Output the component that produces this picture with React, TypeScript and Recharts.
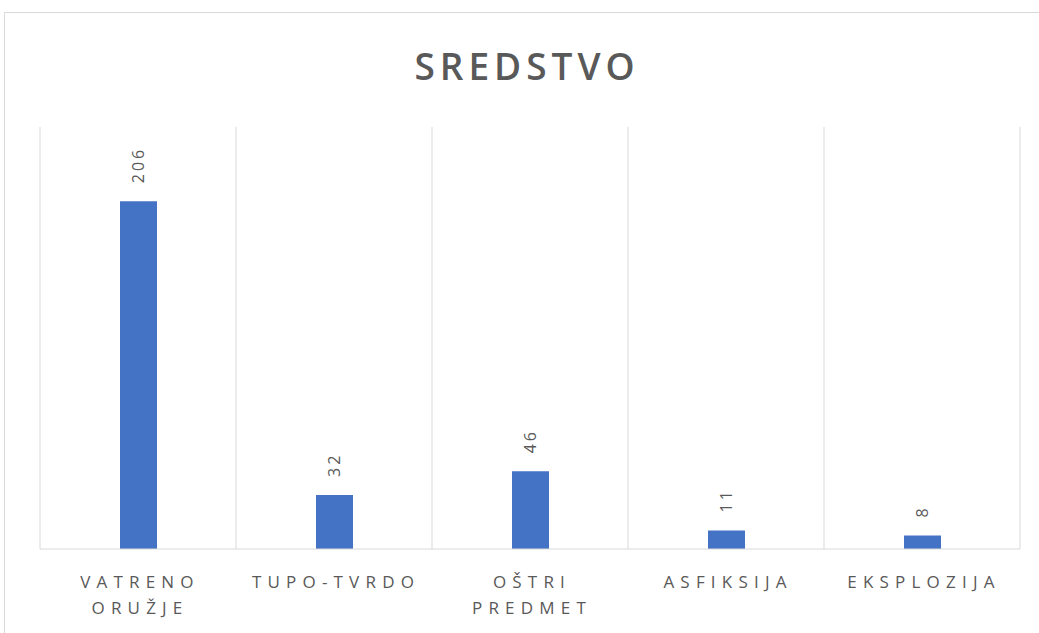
import { BarChart, Bar, XAxis, YAxis, CartesianGrid, LabelList } from "recharts";

const categories = ["VATRENO ORUŽJE", "TUPO-TVRDO", "OŠTRI PREDMET", "ASFIKSIJA", "EKSPLOZIJA"];
const counts = [206, 32, 46, 11, 8];
const yTicks = [0, 50, 100, 150, 200, 250];

const data = categories.map((name, i) => ({ name, value: counts[i] }));

const GRAY = "#595959";
const GRID = "#d9d9d9";
const FONT = "'Open Sans', 'Noto Sans', sans-serif";

function CategoryTick(props: any) {
  const { x, y, payload } = props;
  const lines = String(payload.value).split(" ");
  return (
    <g>
      {lines.map((line: string, i: number) => (
        <text
          key={i}
          x={x + 2}
          y={y + 31 + i * 26}
          textAnchor="middle"
          fill={GRAY}
          fontFamily={FONT}
          fontSize={17}
          style={{ letterSpacing: "6.2px" }}
        >
          {line}
        </text>
      ))}
    </g>
  );
}

function ValueLabel(props: any) {
  const { x, y, width, value } = props;
  const cx = x + width / 2;
  const cy = y - 18;
  return (
    <text
      x={cx}
      y={cy}
      transform={`rotate(-90, ${cx}, ${cy})`}
      textAnchor="start"
      dominantBaseline="central"
      fill={GRAY}
      fontFamily={FONT}
      fontSize={16}
      style={{ letterSpacing: "3px" }}
    >
      {value}
    </text>
  );
}

export default function App() {
  const n = categories.length;
  return (
    <div style={{ position: "absolute", left: 0, top: 0, width: 1039, height: 633, background: "#fff" }}>
      <div
        style={{
          position: "absolute",
          left: 4,
          top: 12,
          width: 1040,
          height: 640,
          border: `1px solid ${GRID}`,
          boxSizing: "border-box",
        }}
      />
      <div
        style={{
          position: "absolute",
          left: 0,
          top: 44,
          width: 1039,
          textAlign: "center",
          fontFamily: FONT,
          fontWeight: 600,
          fontSize: 37,
          letterSpacing: "5px",
          color: GRAY,
          lineHeight: "44px",
          paddingLeft: 15,
          boxSizing: "border-box",
        }}
      >
        SREDSTVO
      </div>
      <div style={{ position: "absolute", left: 0, top: 0 }}>
        <BarChart
          width={1039}
          height={633}
          data={data}
          margin={{ top: 127, right: 19, bottom: 54, left: 40 }}
        >
          <CartesianGrid
            horizontal={false}
            stroke={GRID}
            verticalCoordinatesGenerator={({ offset }: any) =>
              Array.from({ length: n + 1 }, (_, i) => offset.left + (i * offset.width) / n)
            }
          />
          <XAxis
            dataKey="name"
            axisLine={{ stroke: GRID }}
            tickLine={false}
            interval={0}
            height={30}
            tick={<CategoryTick />}
          />
          <YAxis hide domain={[0, 250]} ticks={yTicks} />
          <Bar dataKey="value" fill="#4472C4" barSize={37} isAnimationActive={false}>
            <LabelList dataKey="value" content={<ValueLabel />} />
          </Bar>
        </BarChart>
      </div>
    </div>
  );
}
